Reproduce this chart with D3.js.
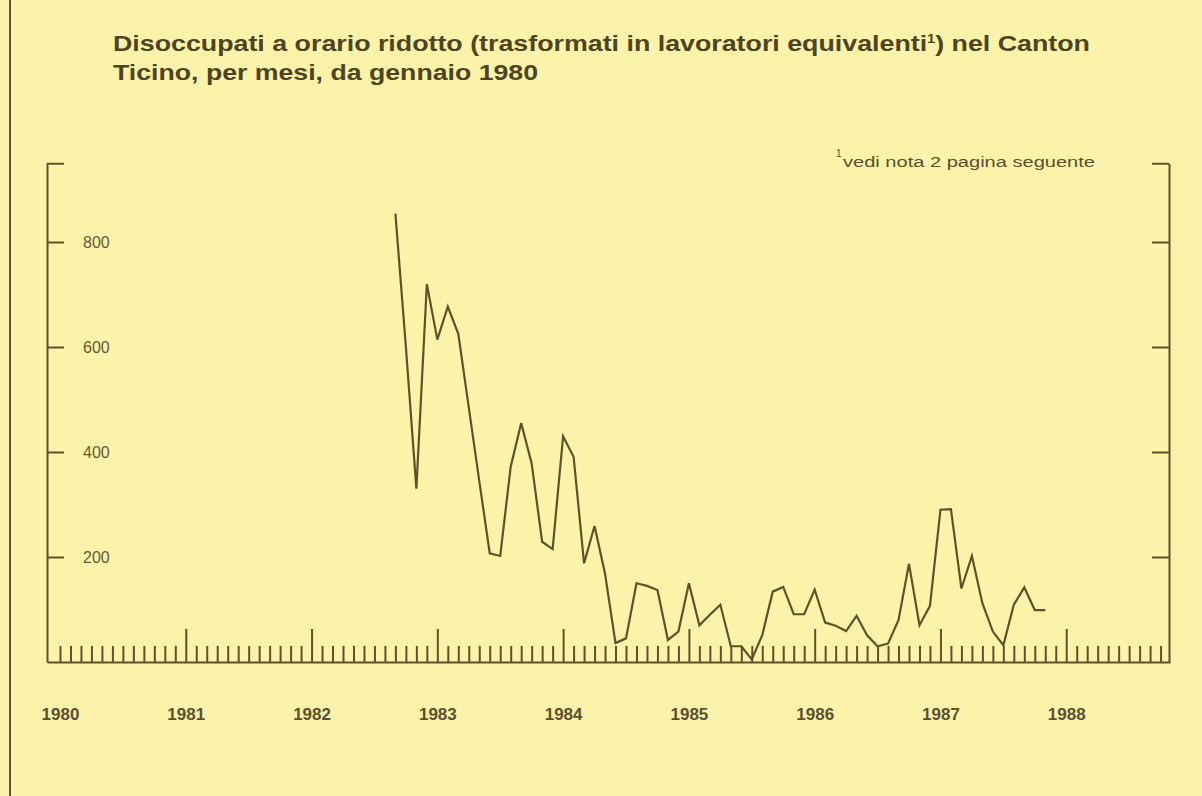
<!DOCTYPE html>
<meta charset="utf-8">
<head>
<script src="https://d3js.org/d3.v7.min.js"></script>
<style>
  body { margin: 0; background: #fbf3aa; }
  svg { display: block; }
</style>
</head>
<body>
<svg width="1202" height="796"></svg>
<script>
// monthly values, first one is september 1982
var firstYear = 1982, firstMonth = 9;
var values = [854, 600, 330, 720,
  614, 677, 625, 485, 345, 207, 202, 372, 455, 378, 229, 215,
  430, 391, 188, 259, 168, 36, 45, 150, 145, 137, 42, 58,
  150, 70, 90, 109, 30, 30, 5, 51, 134, 143, 91, 91,
  138, 75, 69, 59, 88, 51, 30, 35, 80, 187, 70, 107,
  290, 291, 140, 202, 112, 58, 32, 109, 142, 99, 99];
var years = [1980, 1981, 1982, 1983, 1984, 1985, 1986, 1987, 1988];
var yTicks = [200, 400, 600, 800];

var ink = "#5e5328";
var font = "Liberation Sans, Arial, sans-serif";
var svg = d3.select("svg");

// months counted from jan 1980
var x = d3.scaleLinear().domain([-1.24, 105.9]).range([47, 1170]);
var y = d3.scaleLinear().domain([0, 1000]).range([662, 137]);
// the vertical axes stop a bit under 1000
var yAxis = y.copy().domain([0, 950]).range([y(0), y(950)]);

var data = values.map(function(v, i) {
  return { m: (firstYear - 1980) * 12 + (firstMonth - 1) + i, v: v };
});

// page border on the left
svg.append("line").attr("x1", 10).attr("x2", 10).attr("y1", 0).attr("y2", 796)
  .attr("stroke", ink).attr("stroke-width", 2);

// title (the printed type is wider than Arial, so it is stretched)
var title = svg.append("text").attr("x", 113).attr("y", 51)
  .attr("textLength", 977).attr("lengthAdjust", "spacingAndGlyphs")
  .style("font-family", font)
  .style("font-weight", "bold").style("font-size", "22px").attr("fill", "#4e4421");
title.append("tspan").text("Disoccupati a orario ridotto (trasformati in lavoratori equivalenti");
title.append("tspan").attr("dy", -8).style("font-size", "12px").text("1");
title.append("tspan").attr("dy", 8).text(") nel Canton");
svg.append("text").attr("x", 113).attr("y", 80)
  .attr("textLength", 425).attr("lengthAdjust", "spacingAndGlyphs")
  .style("font-family", font)
  .style("font-weight", "bold").style("font-size", "22px").attr("fill", "#4e4421")
  .text("Ticino, per mesi, da gennaio 1980");

// footnote
svg.append("text").attr("x", 836).attr("y", 157)
  .style("font-family", font).style("font-size", "10px").attr("fill", "#5a4f2a").text("1");
svg.append("text").attr("x", 843).attr("y", 167)
  .attr("textLength", 252).attr("lengthAdjust", "spacingAndGlyphs")
  .style("font-family", font).style("font-size", "14px").attr("fill", "#5a4f2a")
  .text("vedi nota 2 pagina seguente");

function styleAxis(g) {
  g.selectAll("path, line").attr("stroke", ink).attr("stroke-width", 2);
  g.selectAll("text").attr("fill", "#645a35").style("font-family", font);
}

// left axis, ticks pointing inwards
var left = svg.append("g").attr("transform", "translate(47,0)")
  .call(d3.axisRight(yAxis).tickValues(yTicks.concat([950])).tickSize(17).tickSizeOuter(0)
    .tickPadding(19).tickFormat(function(d) { return d == 950 ? "" : d; }));
styleAxis(left);
left.selectAll("text").style("font-size", "16px");

// right axis
var right = svg.append("g").attr("transform", "translate(1169,0)")
  .call(d3.axisLeft(yAxis).tickValues(yTicks.concat([950])).tickSize(17).tickSizeOuter(0)
    .tickFormat(""));
styleAxis(right);

// monthly ticks on the baseline
var months = d3.range(0, 106).filter(function(m) { return m == 0 || m % 12 != 0; });
var minor = svg.append("g").attr("transform", "translate(0," + y(0) + ")")
  .call(d3.axisTop(x).tickValues(months).tickSize(16).tickSizeOuter(0).tickFormat(""));
styleAxis(minor);

var major = svg.append("g").attr("transform", "translate(0," + y(0) + ")")
  .call(d3.axisTop(x).tickValues(d3.range(12, 106, 12)).tickSize(33).tickSizeOuter(0).tickFormat(""));
styleAxis(major);
major.select(".domain").remove();

// year labels
var yl = svg.append("g").attr("transform", "translate(0," + y(0) + ")")
  .call(d3.axisBottom(x).tickValues(years.map(function(yr) { return (yr - 1980) * 12; }))
    .tickSize(0).tickPadding(46).tickFormat(function(d) { return 1980 + d / 12; }));
styleAxis(yl);
yl.select(".domain").remove();
yl.selectAll("text").style("font-size", "17px").style("font-weight", "bold").attr("fill", "#5a5030");

// the series
var line = d3.line().x(function(d) { return x(d.m); }).y(function(d) { return y(d.v); });
svg.append("path").datum(data).attr("d", line)
  .attr("fill", "none").attr("stroke", ink).attr("stroke-width", 2.2)
  .attr("stroke-linejoin", "miter");
</script>
</body>
